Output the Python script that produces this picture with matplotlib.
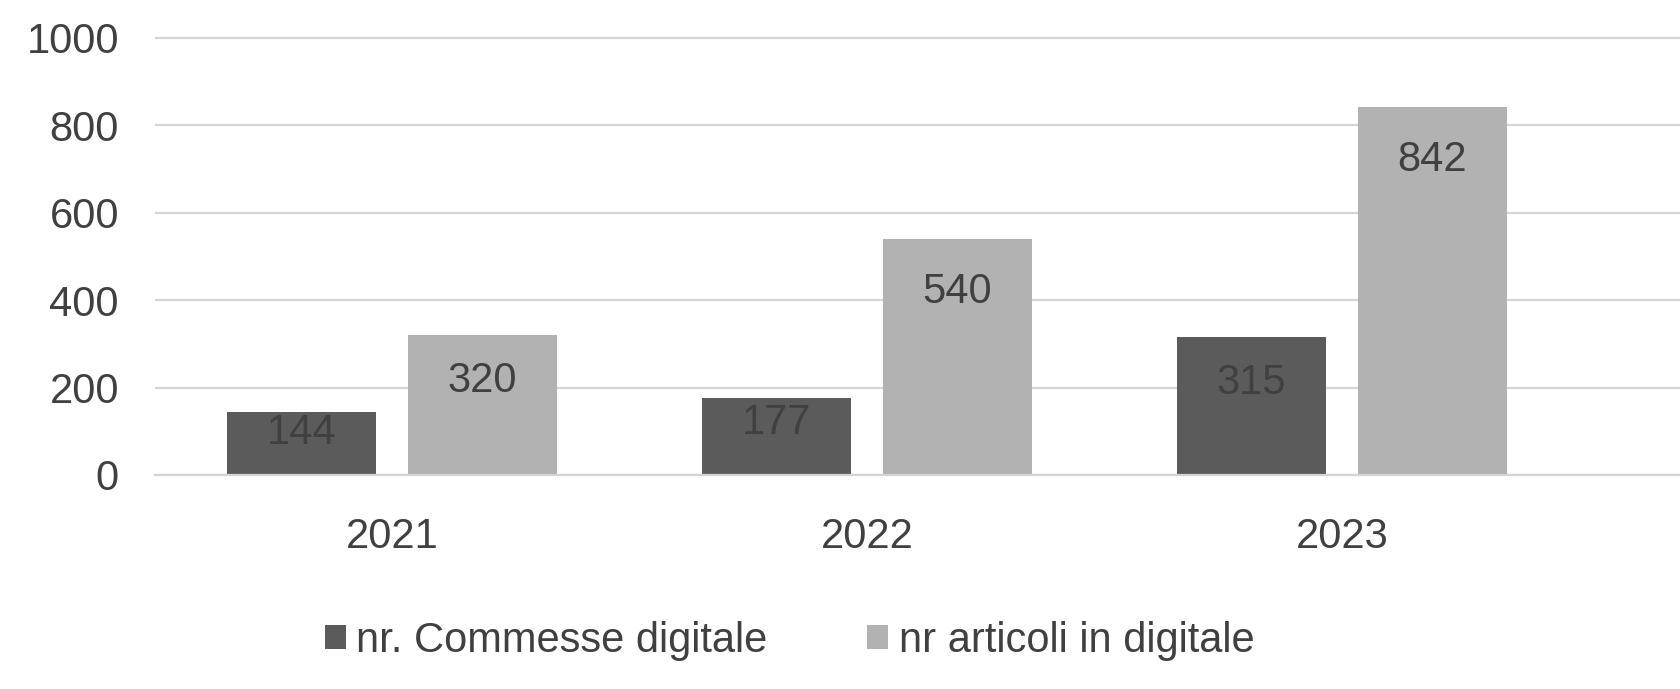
import matplotlib.pyplot as plt
import numpy as np

plt.rcParams["font.family"] = ["Liberation Sans", "DejaVu Sans"]

years = ["2021", "2022", "2023"]
commesse = [144, 177, 315]
articoli = [320, 540, 842]
series_names = ["nr. Commesse digitale", "nr articoli in digitale"]

dark = "#5b5b5b"
light = "#b2b2b2"
text_col = "#404040"

fig = plt.figure(figsize=(16.8, 6.89), dpi=100)
ax = fig.add_axes([0.0923, 0.3106, 0.9077, 0.6406])

x = np.arange(len(years))
off = 0.19
w = 0.314
b1 = ax.bar(x - off, commesse, w, color=dark, label=series_names[0], zorder=2)
b2 = ax.bar(x + off, articoli, w, color=light, label=series_names[1], zorder=2)

# labels sit inside the top of each bar, pushed up on short bars
for bars in (b1, b2):
    for rect in bars:
        h = rect.get_height()
        ax.text(rect.get_x() + rect.get_width() / 2, h - min(121, 0.33 * h),
                f"{h:.0f}", ha="center", va="center", fontsize=30,
                color=text_col, zorder=3)

ax.set_xlim(-0.499, 2.712)
ax.set_ylim(0, 1010)
ax.set_yticks(np.arange(0, 1001, 200))
ax.set_xticks(x)
ax.set_xticklabels(years)
ax.yaxis.grid(True, color="#d4d4d4", lw=1.6, zorder=0)
ax.set_axisbelow(True)
for s in ["top", "right", "left"]:
    ax.spines[s].set_visible(False)
ax.spines["bottom"].set_color("#d4d4d4")
ax.spines["bottom"].set_linewidth(1.6)
ax.tick_params(axis="both", length=0, labelsize=30, labelcolor=text_col)
ax.tick_params(axis="y", pad=26)
ax.tick_params(axis="x", pad=30)

fig.legend(loc="center", bbox_to_anchor=(0.47, 0.07), ncol=2, frameon=False,
           fontsize=30, labelcolor=text_col, handlelength=0.5, handleheight=0.5,
           handletextpad=0.25, columnspacing=2.4)

fig.savefig("out.png", dpi=100)
